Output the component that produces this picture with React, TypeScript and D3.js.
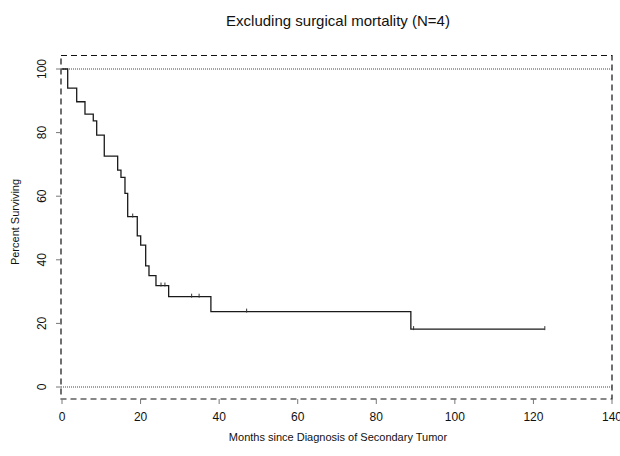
import React, { useEffect, useRef } from 'react';
import * as d3 from 'd3';

const width = 620;
const height = 456;

// step times (months) and survival (%) right after each step
const stepMonths = [0, 1.45, 3.74, 5.85, 7.96, 8.83, 10.76, 14.17, 15.01, 16.03, 16.72, 19.16, 20.03, 21.3, 22.14, 23.92, 27.15, 37.9, 88.8, 122.9];
const stepSurvival = [100, 94.0, 89.7, 85.8, 83.7, 79.2, 72.6, 68.2, 65.9, 60.9, 53.6, 47.5, 44.6, 38.1, 35.0, 31.9, 28.4, 23.7, 18.2, 18.2];

// censored observations
const censorMonths = [18.0, 25.2, 26.2, 33.0, 34.9, 47.0, 89.5, 122.9];
const censorSurvival = [53.6, 31.9, 31.9, 28.4, 28.4, 23.7, 18.2, 18.2];

const xTicks = [0, 20, 40, 60, 80, 100, 120, 140];
const yTicks = [0, 20, 40, 60, 80, 100];

const titleText = 'Excluding surgical mortality (N=4)';
const xLabel = 'Months since Diagnosis of Secondary Tumor';
const yLabel = 'Percent Surviving';

const font = '"Liberation Sans", Arial, sans-serif';

export default function App() {
    const node = useRef<SVGSVGElement | null>(null);

    useEffect(() => {
        const svg = d3.select(node.current);
        svg.selectAll('*').remove();

        const x = d3.scaleLinear().domain([0, 140]).range([62, 612]);
        const y = d3.scaleLinear().domain([0, 100]).range([387, 69]);

        const boxLeft = 61, boxRight = 612, boxTop = 55.5, boxBottom = 399;

        // dashed frame
        svg.append('rect')
            .attr('x', boxLeft).attr('y', boxTop)
            .attr('width', boxRight - boxLeft).attr('height', boxBottom - boxTop)
            .attr('fill', 'none')
            .attr('stroke', '#111')
            .attr('stroke-width', 1.2)
            .attr('stroke-dasharray', '6,4');

        // dotted reference lines at 0 and 100
        [0, 100].forEach(v => {
            svg.append('line')
                .attr('x1', boxLeft).attr('x2', boxRight)
                .attr('y1', y(v)).attr('y2', y(v))
                .attr('stroke', '#444')
                .attr('stroke-width', 1)
                .attr('stroke-dasharray', '1,1');
        });

        // y ticks + labels
        yTicks.forEach(v => {
            svg.append('line')
                .attr('x1', boxLeft - 5).attr('x2', boxLeft)
                .attr('y1', y(v)).attr('y2', y(v))
                .attr('stroke', '#777');
            svg.append('text')
                .attr('transform', `translate(42,${y(v)}) rotate(-90)`)
                .attr('text-anchor', 'middle')
                .attr('dominant-baseline', 'central')
                .attr('font-family', font)
                .attr('font-size', 12)
                .attr('fill', '#111')
                .text(v);
        });

        // x ticks + labels
        xTicks.forEach(v => {
            svg.append('line')
                .attr('x1', x(v)).attr('x2', x(v))
                .attr('y1', boxBottom).attr('y2', boxBottom + 5)
                .attr('stroke', '#777');
            svg.append('text')
                .attr('x', x(v)).attr('y', 421)
                .attr('text-anchor', 'middle')
                .attr('font-family', font)
                .attr('font-size', 12)
                .attr('fill', '#111')
                .text(v);
        });

        // survival curve
        const pts: [number, number][] = stepMonths.map((m, i) => [m, stepSurvival[i]]);
        const line = d3.line<[number, number]>()
            .x(d => x(d[0]))
            .y(d => y(d[1]))
            .curve(d3.curveStepAfter);
        svg.append('path')
            .attr('d', line(pts))
            .attr('fill', 'none')
            .attr('stroke', '#1a1a1a')
            .attr('stroke-width', 1.3);

        // censor marks
        censorMonths.forEach((m, i) => {
            svg.append('line')
                .attr('x1', x(m)).attr('x2', x(m))
                .attr('y1', y(censorSurvival[i]) - 3).attr('y2', y(censorSurvival[i]) + 1)
                .attr('stroke', '#333')
                .attr('stroke-width', 1);
        });

        svg.append('text')
            .attr('x', 338).attr('y', 26)
            .attr('text-anchor', 'middle')
            .attr('font-family', font)
            .attr('font-size', 15)
            .attr('fill', '#111')
            .text(titleText);

        svg.append('text')
            .attr('x', 338).attr('y', 441)
            .attr('text-anchor', 'middle')
            .attr('font-family', font)
            .attr('font-size', 11)
            .attr('fill', '#111')
            .text(xLabel);

        svg.append('text')
            .attr('transform', 'translate(15,222) rotate(-90)')
            .attr('text-anchor', 'middle')
            .attr('dominant-baseline', 'central')
            .attr('font-family', font)
            .attr('font-size', 11)
            .attr('fill', '#111')
            .text(yLabel);
    }, []);

    return (
        <svg ref={node} width={width} height={height}
            style={{ position: 'absolute', left: 0, top: 0, background: '#fff' }} />
    );
}
